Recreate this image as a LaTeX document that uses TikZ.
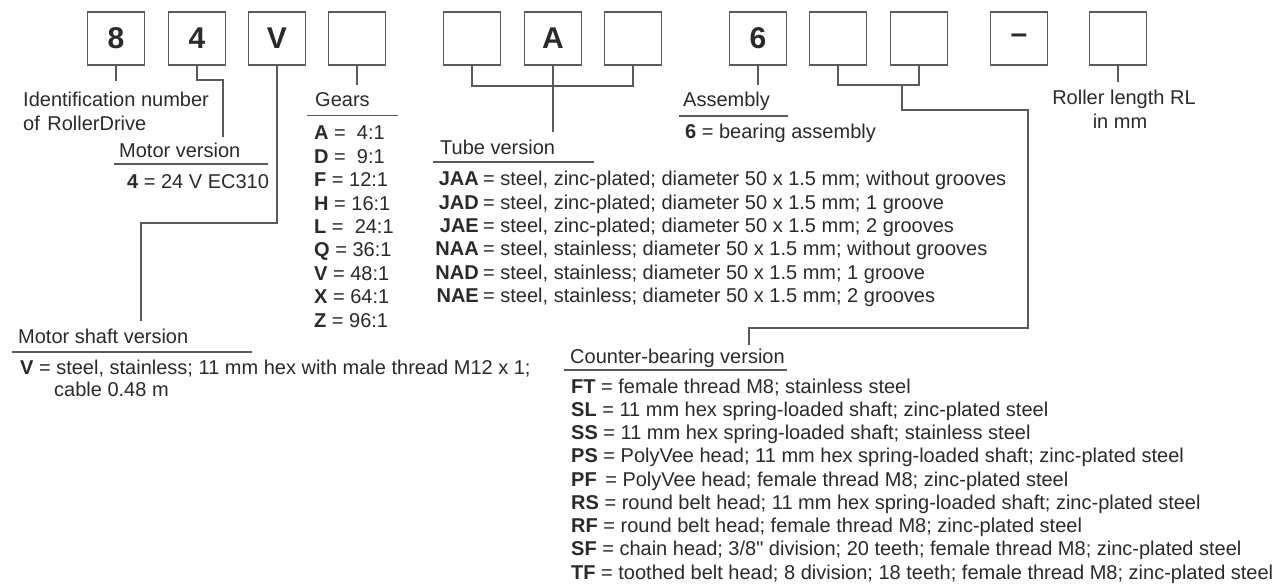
\documentclass[tikz,border=0pt]{standalone}
\usepackage{fontspec}
\setmainfont{Liberation Sans}
\newfontfamily\plainfont{Liberation Sans}
\definecolor{txt}{HTML}{2A2A2A}
\definecolor{ln}{HTML}{5A5A5A}
\tikzset{
  digitbox/.style={draw=ln, line width=1.3pt, minimum width=57pt, minimum height=53pt, inner sep=0pt,
    font=\fontsize{30}{30}\selectfont\bfseries, text=txt},
  lbl/.style={anchor=base west, inner sep=0pt, font=\fontsize{20}{23.4}\selectfont, text=txt},
  lblc/.style={anchor=base, inner sep=0pt, font=\fontsize{20}{23.4}\selectfont, text=txt},
  lble/.style={anchor=base east, inner sep=0pt, font=\fontsize{20}{23.4}\selectfont\bfseries, text=txt},
  conn/.style={draw=ln, line width=1.2pt},
  rule/.style={draw=ln, line width=1.2pt},
}
\begin{document}
\begin{tikzpicture}[x=1pt,y=-1pt]
\useasboundingbox[fill=white] (0,0) rectangle (1275,585);

% code boxes
\node[digitbox] (b1) at (116,38.5) {8};
\node[digitbox] (b2) at (197,38.5) {4};
\node[digitbox] (b3) at (277,38.5) {V};
\node[digitbox] (b4) at (357,38.5) {};
\node[digitbox] (b5) at (472,38.5) {};
\node[digitbox] (b6) at (553,38.5) {A};
\node[digitbox] (b7) at (633,38.5) {};
\node[digitbox] (b8) at (758,38.5) {6};
\node[digitbox] (b9) at (838,38.5) {};
\node[digitbox] (b10) at (919,38.5) {};
\node[digitbox] (b11) at (1019,38.5) {--};
\node[digitbox] (b12) at (1118,38.5) {};

% connector end points
\coordinate (e1) at (116,81);
\coordinate (e2) at (223,137);
\coordinate (e3) at (141,321);
\coordinate (e4) at (357,85);
\coordinate (e6) at (553,132);
\coordinate (e8) at (758,85);
\coordinate (e9) at (749,345);
\coordinate (e12) at (1118,82);

% connectors
\draw[conn] (b1.south) -- (e1);
\draw[conn] (b2.south) -- (197,80) -- (223,80) -- (e2);
\draw[conn] (b3.south) -- (277,223) -- (141,223) -- (e3);
\draw[conn] (b4.south) -- (e4);
\draw[conn] (b5.south) -- (472,86) -- (633,86) -- (b7.south);
\draw[conn] (b6.south) -- (e6);
\draw[conn] (b8.south) -- (e8);
\draw[conn] (b9.south) -- (838,85) -- (919,85) -- (b10.south);
\draw[conn] (902,85) -- (902,110) -- (1028,110) -- (1028,328) -- (749,328) -- (e9);
\draw[conn] (b12.south) -- (e12);

% identification number
\node[lbl] (id1) at (23,107) {Identification number};
\node[lbl] (id2) at (23,131) {of\hspace{2pt} RollerDrive};

% motor version
\node[lbl] (mv) at (119,158) {Motor version};
\draw[rule] (114,164) -- (268,164);
\node[lbl] (mv1) at (127,189) {\textbf{4} = 24 V EC310};

% gears
\node[lbl] (gt) at (315,107) {Gears};
\draw[rule] (307,115.5) -- (398,115.5);
\foreach \c/\v [count=\i from 0] in {A/\ 4:1, D/\ 9:1, F/12:1, H/16:1, L/\ 24:1, Q/36:1, V/48:1, X/64:1, Z/96:1}{
  \node[lbl] (g\i) at (314,140+23.4*\i) {\textbf{\c} = \v};
}

% tube version
\node[lbl] (tt) at (440,155) {Tube version};
\draw[rule] (433,162) -- (594,162);
\foreach \c/\v [count=\i from 0] in {
  JAA/{steel, zinc-plated; diameter 50 x 1.5 mm; without grooves},
  JAD/{steel, zinc-plated; diameter 50 x 1.5 mm; 1 groove},
  JAE/{steel, zinc-plated; diameter 50 x 1.5 mm; 2 grooves},
  NAA/{steel, stainless; diameter 50 x 1.5 mm; without grooves},
  NAD/{steel, stainless; diameter 50 x 1.5 mm; 1 groove},
  NAE/{steel, stainless; diameter 50 x 1.5 mm; 2 grooves}}{
  \node[lble] (tc\i) at (479,186+23.3*\i) {\c};
  \node[lbl] (tv\i) at (483,186+23.3*\i) {= \v};
}

% assembly
\node[lbl] (at) at (683,107) {Assembly};
\draw[rule] (679,116) -- (788,116);
\node[lbl] (a1) at (685,139) {\textbf{6} = bearing assembly};

% roller length
\node[lblc] (rl1) at (1124,105) {Roller length RL};
\node[lblc] (rl2) at (1120,129) {in mm};

% motor shaft version
\node[lbl] (mst) at (18,344) {Motor shaft version};
\draw[rule] (12,352) -- (252,352);
\node[lbl] (ms1) at (20,375) {\textbf{V} = steel, stainless; 11 mm hex with male thread M12 x 1;};
\node[lbl] (ms2) at (54,396) {cable 0.48 m};

% counter-bearing version
\node[lbl] (ct) at (570,364) {Counter-bearing version};
\draw[rule] (564,370) -- (787,370);
\foreach \c/\v [count=\i from 0] in {
  FT/{ = female thread M8; stainless steel},
  SL/{ = 11 mm hex spring-loaded shaft; zinc-plated steel},
  SS/{ = 11 mm hex spring-loaded shaft; stainless steel},
  PS/{ = PolyVee head; 11 mm hex spring-loaded shaft; zinc-plated steel},
  PF/{\hspace{3pt} = PolyVee head; female thread M8; zinc-plated steel},
  RS/{ = round belt head; 11 mm hex spring-loaded shaft; zinc-plated steel},
  RF/{ = round belt head; female thread M8; zinc-plated steel},
  SF/{ = chain head; 3/8{\plainfont\char34}\ division; 20 teeth; female thread M8; zinc-plated steel},
  TF/{ = toothed belt head; 8 division; 18 teeth; female thread M8; zinc-plated steel}}{
  \node[lbl] (cb\i) at (571,393+23.25*\i) {\textbf{\c}\v};
}
\end{tikzpicture}
\end{document}
